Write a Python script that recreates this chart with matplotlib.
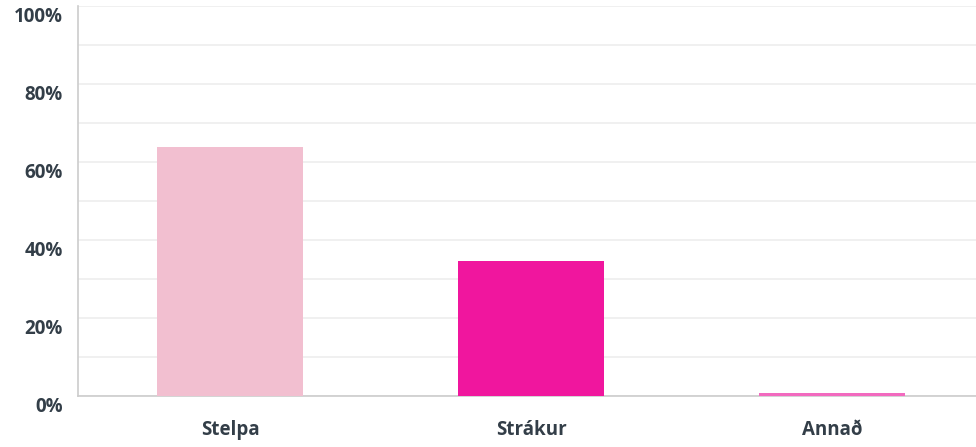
import matplotlib.pyplot as plt
import matplotlib.transforms as mtransforms
from matplotlib.ticker import FuncFormatter, MultipleLocator

# Data
categories = ['Stelpa', 'Strákur', 'Annað']
values = [63.8, 34.6, 0.8]
bar_colors = ['#F2BFD0', '#F0169E', '#F26ABF']
y_ticks = [0, 20, 40, 60, 80, 100]

plt.rcParams.update({
    "font.family": ["Open Sans", "DejaVu Sans"],
    "font.size": 12,
})
text_color = '#333E48'

fig = plt.figure(figsize=(9.76, 4.47), dpi=100)
ax = fig.add_axes([78 / 976, 51 / 447, 898 / 976, 390 / 447])

x = range(len(categories))
ax.bar(x, values, width=0.485, color=bar_colors, zorder=3)

ax.set_xlim(-0.505, 2.478)
ax.set_ylim(0, 100)

# Light gridlines every 10%, labels every 20%
ax.yaxis.set_minor_locator(MultipleLocator(10))
ax.set_yticks(y_ticks)
ax.yaxis.set_major_formatter(FuncFormatter(lambda v, _: f'{int(v)}%'))
ax.grid(True, which='both', axis='y', color='#EDEDED', linewidth=1.2, zorder=0)
ax.tick_params(axis='y', which='both', length=0, pad=11, labelsize=13.5,
               labelcolor=text_color)

ax.set_xticks(list(x))
ax.set_xticklabels(categories)
ax.tick_params(axis='x', length=0, pad=17, labelsize=13.5, labelcolor=text_color)

for lab in ax.get_yticklabels() + ax.get_xticklabels():
    lab.set_fontweight('bold')

# y labels sit a bit below their gridlines
offset = mtransforms.ScaledTranslation(0, -0.09, fig.dpi_scale_trans)
for lab in ax.get_yticklabels():
    lab.set_transform(lab.get_transform() + offset)

for side in ['top', 'right']:
    ax.spines[side].set_visible(False)
ax.spines['left'].set_color('#CCCCCC')
ax.spines['bottom'].set_color('#CCCCCC')
ax.spines['left'].set_linewidth(1.2)
ax.spines['bottom'].set_linewidth(1.2)

fig.savefig('out.png', dpi=100)
